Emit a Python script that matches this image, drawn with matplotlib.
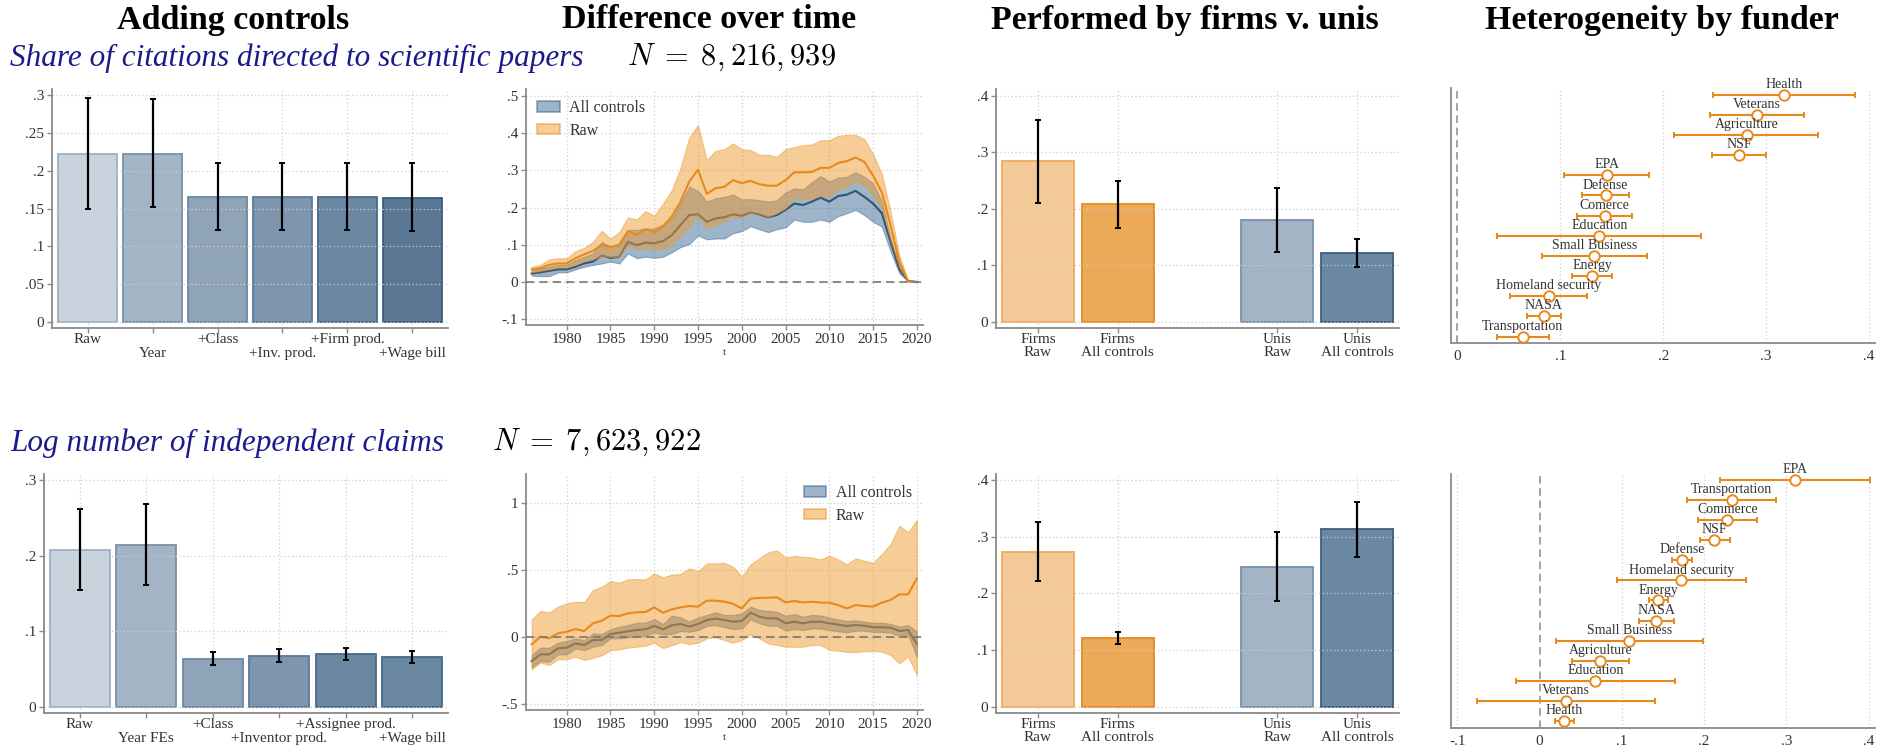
import matplotlib
matplotlib.use('Agg')
import numpy as np
import matplotlib.pyplot as plt
from matplotlib.patches import Patch

# ---------------- data ----------------
ctrl_labels_top = ['Raw', 'Year', '+Class', '+Inv. prod.', '+Firm prod.', '+Wage bill']
ctrl_vals_top = [0.222, 0.222, 0.165, 0.165, 0.165, 0.164]
ctrl_lo_top = [0.150, 0.152, 0.121, 0.121, 0.121, 0.120]
ctrl_hi_top = [0.296, 0.295, 0.210, 0.210, 0.210, 0.210]

ctrl_labels_bot = ['Raw', 'Year FEs', '+Class', '+Inventor prod.', '+Assignee prod.', '+Wage bill']
ctrl_vals_bot = [0.208, 0.214, 0.064, 0.067, 0.070, 0.066]
ctrl_lo_bot = [0.155, 0.161, 0.056, 0.059, 0.062, 0.058]
ctrl_hi_bot = [0.262, 0.268, 0.072, 0.076, 0.078, 0.074]

years = list(range(1976, 2021))

raw_top_mean = [0.034, 0.037, 0.046, 0.050, 0.050, 0.064, 0.074, 0.084, 0.100, 0.094,
                0.100, 0.137, 0.127, 0.142, 0.134, 0.149, 0.176, 0.216, 0.270, 0.302,
                0.237, 0.252, 0.256, 0.274, 0.266, 0.272, 0.263, 0.259, 0.259, 0.274,
                0.295, 0.295, 0.296, 0.307, 0.307, 0.320, 0.325, 0.335, 0.323, 0.286,
                0.241, 0.152, 0.054, 0.002, 0.0]
raw_top_hi = [0.041, 0.046, 0.061, 0.064, 0.064, 0.083, 0.092, 0.108, 0.138, 0.117,
              0.134, 0.174, 0.168, 0.191, 0.178, 0.211, 0.247, 0.307, 0.389, 0.422,
              0.328, 0.353, 0.357, 0.373, 0.357, 0.355, 0.342, 0.342, 0.337, 0.357,
              0.363, 0.368, 0.370, 0.381, 0.382, 0.393, 0.396, 0.396, 0.384, 0.344,
              0.290, 0.188, 0.071, 0.004, 0.0]
raw_top_lo = [0.026, 0.030, 0.034, 0.039, 0.039, 0.046, 0.056, 0.062, 0.068, 0.068,
              0.068, 0.100, 0.088, 0.092, 0.088, 0.088, 0.101, 0.125, 0.149, 0.180,
              0.144, 0.155, 0.164, 0.176, 0.173, 0.186, 0.183, 0.175, 0.185, 0.198,
              0.227, 0.223, 0.225, 0.231, 0.231, 0.249, 0.256, 0.272, 0.261, 0.234,
              0.198, 0.113, 0.039, 0.003, 0.0]
ctl_top_mean = [0.023, 0.026, 0.030, 0.034, 0.034, 0.041, 0.050, 0.055, 0.071, 0.065,
                0.068, 0.108, 0.099, 0.106, 0.104, 0.110, 0.126, 0.153, 0.180, 0.182,
                0.162, 0.171, 0.174, 0.182, 0.178, 0.187, 0.182, 0.174, 0.180, 0.194,
                0.211, 0.207, 0.216, 0.227, 0.216, 0.231, 0.235, 0.245, 0.229, 0.211,
                0.185, 0.108, 0.035, 0.003, 0.0]
ctl_top_hi = [0.032, 0.037, 0.041, 0.046, 0.046, 0.059, 0.068, 0.077, 0.108, 0.095,
              0.100, 0.140, 0.140, 0.144, 0.144, 0.155, 0.171, 0.211, 0.256, 0.245,
              0.216, 0.225, 0.229, 0.235, 0.222, 0.223, 0.220, 0.216, 0.220, 0.241,
              0.252, 0.249, 0.268, 0.285, 0.270, 0.281, 0.283, 0.295, 0.283, 0.265,
              0.216, 0.117, 0.041, 0.003, 0.0]
ctl_top_lo = [0.017, 0.016, 0.016, 0.026, 0.026, 0.034, 0.041, 0.046, 0.050, 0.055,
              0.050, 0.077, 0.064, 0.068, 0.065, 0.068, 0.080, 0.094, 0.102, 0.125,
              0.115, 0.117, 0.117, 0.131, 0.137, 0.150, 0.142, 0.134, 0.142, 0.147,
              0.168, 0.162, 0.162, 0.168, 0.162, 0.177, 0.185, 0.194, 0.180, 0.162,
              0.149, 0.082, 0.023, 0.002, 0.0]

raw_bot_mean = [-0.057, 0.000, -0.012, 0.025, 0.037, 0.057, 0.042, 0.100, 0.119, 0.157,
                0.154, 0.174, 0.182, 0.184, 0.219, 0.179, 0.204, 0.219, 0.229, 0.224,
                0.269, 0.269, 0.262, 0.245, 0.211, 0.284, 0.289, 0.291, 0.294, 0.256,
                0.266, 0.256, 0.261, 0.254, 0.254, 0.236, 0.211, 0.236, 0.229, 0.224,
                0.254, 0.274, 0.316, 0.316, 0.435]
raw_bot_hi = [0.129, 0.192, 0.182, 0.224, 0.249, 0.261, 0.259, 0.348, 0.373, 0.415,
              0.403, 0.428, 0.430, 0.428, 0.473, 0.443, 0.463, 0.468, 0.510, 0.490,
              0.547, 0.547, 0.552, 0.522, 0.448, 0.540, 0.585, 0.629, 0.644, 0.592,
              0.604, 0.595, 0.592, 0.577, 0.604, 0.577, 0.540, 0.585, 0.567, 0.552,
              0.617, 0.692, 0.828, 0.779, 0.871]
raw_bot_lo = [-0.244, -0.194, -0.211, -0.169, -0.169, -0.149, -0.174, -0.157, -0.139, -0.100,
              -0.095, -0.082, -0.075, -0.067, -0.045, -0.085, -0.065, -0.040, -0.055, -0.045,
              -0.012, -0.005, -0.025, -0.045, -0.025, 0.017, -0.012, -0.050, -0.062, -0.075,
              -0.075, -0.075, -0.062, -0.062, -0.100, -0.104, -0.114, -0.114, -0.109, -0.107,
              -0.112, -0.137, -0.199, -0.149, -0.286]
ctl_bot_mean = [-0.182, -0.132, -0.132, -0.087, -0.082, -0.050, -0.062, -0.025, -0.025, 0.020,
                0.030, 0.040, 0.050, 0.055, 0.080, 0.055, 0.085, 0.095, 0.075, 0.095,
                0.124, 0.135, 0.124, 0.112, 0.117, 0.179, 0.149, 0.137, 0.137, 0.100,
                0.112, 0.100, 0.112, 0.112, 0.100, 0.090, 0.080, 0.087, 0.082, 0.070,
                0.070, 0.067, 0.042, 0.050, -0.055]
ctl_bot_hi = [-0.137, -0.082, -0.082, -0.045, -0.032, -0.012, -0.025, 0.025, 0.020, 0.055,
              0.075, 0.087, 0.104, 0.104, 0.132, 0.095, 0.157, 0.144, 0.112, 0.144,
              0.162, 0.183, 0.162, 0.162, 0.174, 0.224, 0.199, 0.192, 0.187, 0.157,
              0.169, 0.149, 0.162, 0.159, 0.142, 0.129, 0.117, 0.122, 0.112, 0.104,
              0.104, 0.095, 0.075, 0.087, 0.037]
ctl_bot_lo = [-0.229, -0.182, -0.187, -0.132, -0.132, -0.087, -0.100, -0.075, -0.062, -0.012,
              -0.012, -0.005, 0.000, 0.007, 0.032, 0.017, 0.020, 0.042, 0.037, 0.050,
              0.080, 0.087, 0.070, 0.057, 0.062, 0.129, 0.100, 0.082, 0.082, 0.045,
              0.057, 0.050, 0.062, 0.060, 0.050, 0.040, 0.032, 0.045, 0.045, 0.035,
              0.035, 0.030, 0.007, 0.015, -0.154]

perf_labels = ['Firms\nRaw', 'Firms\nAll controls', 'Unis\nRaw', 'Unis\nAll controls']
perf_vals_top = [0.284, 0.208, 0.181, 0.122]
perf_lo_top = [0.211, 0.166, 0.124, 0.098]
perf_hi_top = [0.357, 0.250, 0.237, 0.146]
perf_vals_bot = [0.273, 0.121, 0.247, 0.313]
perf_lo_bot = [0.221, 0.110, 0.187, 0.265]
perf_hi_bot = [0.326, 0.132, 0.309, 0.361]

fund_names_top = ['Health', 'Veterans', 'Agriculture', 'NSF', 'EPA', 'Defense', 'Comerce',
                  'Education', 'Small Business', 'Energy', 'Homeland security', 'NASA',
                  'Transportation']
fund_est_top = [0.317, 0.291, 0.281, 0.2735, 0.145, 0.144, 0.143, 0.138, 0.133, 0.131,
                0.0887, 0.0838, 0.0634]
fund_lo_top = [0.2485, 0.2456, 0.2107, 0.2476, 0.1036, 0.121, 0.116, 0.0385, 0.082, 0.111,
               0.0511, 0.0673, 0.0385]
fund_hi_top = [0.386, 0.3366, 0.3508, 0.300, 0.1864, 0.167, 0.170, 0.237, 0.1845, 0.1505,
               0.126, 0.1003, 0.089]

fund_names_bot = ['EPA', 'Transportation', 'Commerce', 'NSF', 'Defense', 'Homeland security',
                  'Energy', 'NASA', 'Small Business', 'Agriculture', 'Education', 'Veterans',
                  'Health']
fund_est_bot = [0.310, 0.2333, 0.2284, 0.2126, 0.1732, 0.1724, 0.1444, 0.1416, 0.1091,
                0.0738, 0.0677, 0.0320, 0.030]
fund_lo_bot = [0.2187, 0.1793, 0.1923, 0.1947, 0.1615, 0.0945, 0.1335, 0.1209, 0.0199,
               0.0398, -0.0292, -0.0755, 0.0183]
fund_hi_bot = [0.4012, 0.2876, 0.2641, 0.2312, 0.185, 0.2503, 0.1558, 0.1631, 0.1988,
               0.1083, 0.1647, 0.140, 0.0422]

# ---------------- styling ----------------
plt.rcParams['font.family'] = ['Liberation Serif', 'DejaVu Serif']
plt.rcParams['mathtext.fontset'] = 'cm'

W, H = 1888, 752
fig = plt.figure(figsize=(W / 100, H / 100), dpi=100)
PX = 0.72  # points per pixel at 100 dpi

SPINE = '#8a8a8a'
GRID = '#cfcfcf'
TXT = '#333333'
NAVY_TXT = '#1a1a8c'
OR_LINE = '#e8891c'
OR_FILL = '#ee9a30'
BL_LINE = '#2f5577'
BL_FILL = '#3e6a94'
LAB_FS = 11

def add_ax(x0, y0, x1, y1):
    return fig.add_axes([x0 / W, 1 - y1 / H, (x1 - x0) / W, (y1 - y0) / H])

def fmt(v):
    s = '%g' % round(v, 4)
    if s.startswith('0.'):
        s = s[1:]
    elif s.startswith('-0.'):
        s = '-' + s[2:]
    return s

def base_style(ax):
    for s in ['top', 'right']:
        ax.spines[s].set_visible(False)
    for s in ['left', 'bottom']:
        ax.spines[s].set_color(SPINE)
        ax.spines[s].set_linewidth(1.3)
    ax.tick_params(colors=SPINE, labelcolor=TXT, labelsize=LAB_FS, length=3.5, width=1,
                   pad=2)

def under_label(ax, x, text, drop_px):
    ax.annotate(text, xy=(x, 0), xycoords=('data', 'axes fraction'),
                xytext=(0, -drop_px * PX), textcoords='offset points',
                ha='center', va='top', fontsize=LAB_FS, color=TXT, linespacing=1.0,
                annotation_clip=False)

def bar_panel(ax, pos, vals, lo, hi, colors, edges, labels, drops, yticks, ylim, xlim):
    base_style(ax)
    vals = np.array(vals); lo = np.array(lo); hi = np.array(hi)
    ax.bar(pos, vals, width=0.9, color=colors, edgecolor=edges, linewidth=1.3, zorder=2)
    for y in yticks:
        ax.axhline(y, ls=(0, (1, 2)), color=GRID, lw=0.9, zorder=2.5)
    for x in pos:
        ax.axvline(x, ls=(0, (1, 2)), color=GRID, lw=0.9, zorder=1)
    ax.errorbar(pos, vals, yerr=[vals - lo, hi - vals], fmt='none', ecolor='black',
                elinewidth=1.6, capsize=2.5, capthick=1.4, zorder=3)
    ax.set_xticks(pos)
    ax.set_xticklabels([''] * len(pos))
    for x, l, d in zip(pos, labels, drops):
        under_label(ax, x, l, d)
    ax.set_yticks(yticks)
    ax.set_yticklabels([fmt(v) for v in yticks])
    ax.set_xlim(xlim)
    ax.set_ylim(ylim)

def time_panel(ax, cm, clo, chi, rm, rlo, rhi, yticks, ylim, legend_loc):
    base_style(ax)
    for y in yticks:
        ax.axhline(y, ls=(0, (1, 2)), color=GRID, lw=0.9, zorder=0)
    xt = [1980, 1985, 1990, 1995, 2000, 2005, 2010, 2015, 2020]
    for x in xt:
        ax.axvline(x, ls=(0, (1, 2)), color=GRID, lw=0.9, zorder=0)
    ax.fill_between(years, clo, chi, facecolor=BL_FILL, alpha=0.5, edgecolor=BL_FILL,
                    linewidth=0.8, zorder=1)
    ax.plot(years, cm, color=BL_LINE, lw=1.5, zorder=2)
    ax.fill_between(years, rlo, rhi, facecolor=OR_FILL, alpha=0.5, edgecolor=OR_FILL,
                    linewidth=0.8, zorder=3)
    ax.plot(years, rm, color=OR_LINE, lw=1.5, zorder=4)
    ax.axhline(0, ls=(0, (5, 3)), color='#777777', lw=1.2, zorder=5)
    ax.set_xticks(xt)
    ax.set_yticks(yticks)
    ax.set_yticklabels([fmt(v) for v in yticks])
    ax.set_xlim(1975.35, 2020.7)
    ax.set_ylim(ylim)
    ax.set_xlabel('t', fontsize=8, color=TXT, labelpad=2)
    handles = [Patch(facecolor=BL_FILL, alpha=0.5, edgecolor=BL_LINE, linewidth=1.2),
               Patch(facecolor=OR_FILL, alpha=0.5, edgecolor=OR_LINE, linewidth=1.2)]
    leg = ax.legend(handles, ['All controls', 'Raw'], loc=legend_loc, frameon=False,
                    fontsize=11.5, handlelength=1.4, handleheight=0.6, handletextpad=0.6,
                    labelspacing=0.4, borderaxespad=0.3)
    for t in leg.get_texts():
        t.set_color(TXT)

def coef_panel(ax, names, est, lo, hi, xticks, xlim, ylim):
    base_style(ax)
    est = np.array(est); lo = np.array(lo); hi = np.array(hi)
    ypos = np.arange(len(names))
    for x in xticks:
        if x != 0:
            ax.axvline(x, ls=(0, (1, 2)), color=GRID, lw=0.9, zorder=0)
    ax.axvline(0, ls=(0, (5, 3)), color='#8a8a8a', lw=1.1, zorder=1)
    ax.errorbar(est, ypos, xerr=[est - lo, hi - est], fmt='o', color=OR_LINE,
                mfc='white', mec=OR_LINE, ms=7.5, mew=1.4, elinewidth=1.5,
                capsize=2.5, capthick=1.3, zorder=3)
    for n, e, y in zip(names, est, ypos):
        ax.annotate(n, (e, y), xytext=(0, 7.5), textcoords='offset points',
                    ha='center', va='center', fontsize=10, color=TXT, zorder=4)
    ax.set_xticks(xticks)
    ax.set_xticklabels([fmt(v) for v in xticks])
    ax.tick_params(axis='x', length=0, pad=5)
    ax.set_yticks([])
    ax.set_xlim(xlim)
    ax.set_ylim(ylim)

# ---------------- column titles ----------------
for txt, xc in [('Adding controls', 233), ('Difference over time', 709),
                ('Performed by firms v. unis', 1185), ('Heterogeneity by funder', 1662)]:
    fig.text(xc / W, 1 - 20 / H, txt, ha='center', va='center', fontsize=24.5,
             fontweight='bold', color='black')

fig.text(10 / W, 1 - 58 / H, 'Share of citations directed to scientific papers',
         ha='left', va='center', fontsize=22.5, style='italic', color=NAVY_TXT)
fig.text(627 / W, 1 - 57 / H, r'$N\;=\;8,216,939$', ha='left', va='center', fontsize=22,
         color='black')
fig.text(10 / W, 1 - 443 / H, 'Log number of independent claims',
         ha='left', va='center', fontsize=22.5, style='italic', color=NAVY_TXT)
fig.text(492 / W, 1 - 442 / H, r'$N\;=\;7,623,922$', ha='left', va='center', fontsize=22,
         color='black')

# ---------------- panels ----------------
top_cols = ['#c8d3dd', '#a3b4c4', '#8fa4b9', '#7d95ad', '#6a88a2', '#5a7794']
top_edges = ['#9fb0c1', '#7890a8', '#6a87a3', '#5a7a98', '#466a8b', '#3b5c7e']
bot_cols = ['#c8d3dd', '#a3b4c4', '#8fa4b9', '#7d95ad', '#6a88a2', '#6a88a2']
bot_edges = ['#9fb0c1', '#7890a8', '#6a87a3', '#5a7a98', '#466a8b', '#466a8b']
stag = [5, 19, 5, 19, 5, 19]

ax = add_ax(52, 89, 448, 328)
bar_panel(ax, list(range(6)), ctrl_vals_top, ctrl_lo_top, ctrl_hi_top, top_cols, top_edges,
          ctrl_labels_top, stag, [0, .05, .1, .15, .2, .25, .3], (-0.008, 0.308), (-0.55, 5.55))

ax = add_ax(44, 474, 448, 713)
bar_panel(ax, list(range(6)), ctrl_vals_bot, ctrl_lo_bot, ctrl_hi_bot, bot_cols, bot_edges,
          ctrl_labels_bot, stag, [0, .1, .2, .3], (-0.008, 0.308), (-0.54, 5.54))

ax = add_ax(526, 89, 923, 325)
time_panel(ax, ctl_top_mean, ctl_top_lo, ctl_top_hi, raw_top_mean, raw_top_lo, raw_top_hi,
           [-.1, 0, .1, .2, .3, .4, .5], (-0.1156, 0.519), 'upper left')

ax = add_ax(526, 474, 923, 710)
time_panel(ax, ctl_bot_mean, ctl_bot_lo, ctl_bot_hi, raw_bot_mean, raw_bot_lo, raw_bot_hi,
           [-.5, 0, .5, 1], (-0.547, 1.214), 'upper right')

perf_cols = ['#f3c998', '#ecaa58', '#a3b4c4', '#6a88a2']
perf_edges = ['#eeaa5c', '#e38b1f', '#7890a8', '#3f5f80']
ax = add_ax(996, 89, 1399, 328)
bar_panel(ax, [0, 1, 3, 4], perf_vals_top, perf_lo_top, perf_hi_top, perf_cols, perf_edges,
          perf_labels, [5] * 4, [0, .1, .2, .3, .4], (-0.0106, 0.412), (-0.525, 4.525))
ax = add_ax(996, 474, 1399, 713)
bar_panel(ax, [0, 1, 3, 4], perf_vals_bot, perf_lo_bot, perf_hi_bot, perf_cols, perf_edges,
          perf_labels, [5] * 4, [0, .1, .2, .3, .4], (-0.011, 0.4106), (-0.525, 4.525))

ax = add_ax(1451, 88, 1875, 343)
coef_panel(ax, fund_names_top, fund_est_top, fund_lo_top, fund_hi_top,
           [0, .1, .2, .3, .4], (-0.0061, 0.4057), (12.32, -0.33))
ax = add_ax(1451, 474, 1875, 728)
coef_panel(ax, fund_names_bot, fund_est_bot, fund_lo_bot, fund_hi_bot,
           [-.1, 0, .1, .2, .3, .4], (-0.1077, 0.4077), (12.35, -0.30))

fig.savefig('out.png', dpi=100)
